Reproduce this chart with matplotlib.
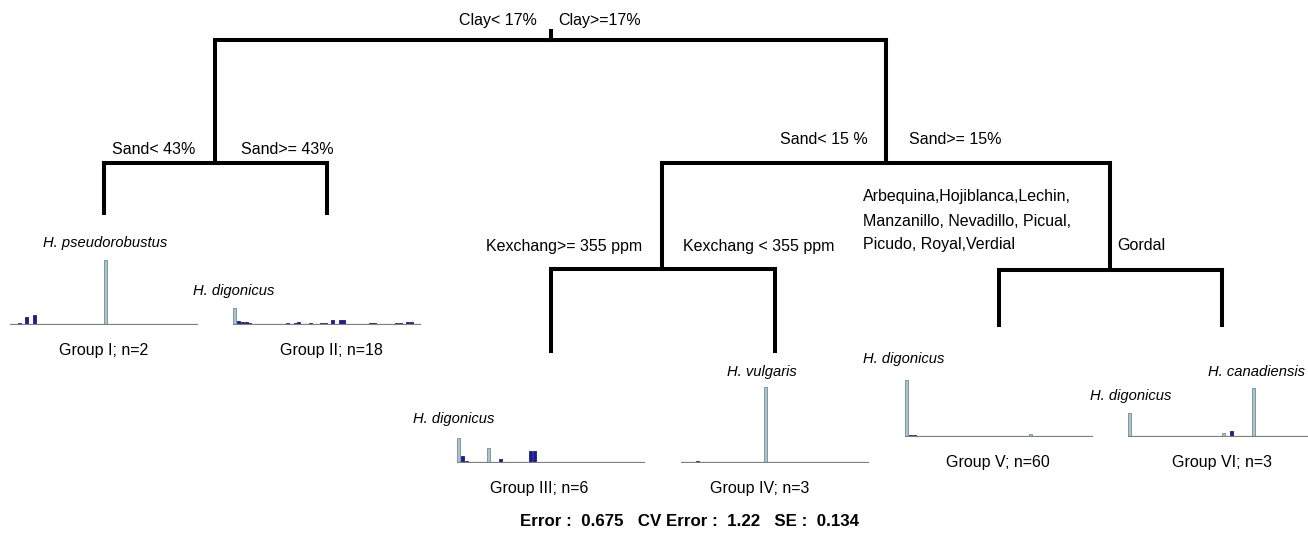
import matplotlib.pyplot as plt

W, H = 1308, 546
N_SPECIES = 50

# species index -> relative abundance
group_i = {1: 1.5, 2: 2, 4: 8, 6: 10, 25: 65}
group_ii = {0: 17, 1: 4, 2: 3, 3: 3, 4: 2, 6: 1, 7: 1, 8: 1, 11: 1, 12: 1, 13: 1,
            14: 2, 16: 2, 17: 3, 20: 2, 23: 2, 24: 2, 26: 5, 28: 5, 29: 5, 36: 2,
            37: 2, 41: 1, 42: 1, 43: 2, 44: 2, 46: 3, 47: 3, 49: 1}
group_iii = {0: 25, 1: 7, 2: 2, 5: 1, 8: 15, 11: 4, 15: 1, 19: 12, 20: 12}
group_iv = {1: 1.5, 4: 2.5, 21: 1.5, 22: 76, 26: 1.5}
group_v = {0: 57, 1: 2, 2: 2, 3: 1, 5: 1, 7: 1, 12: 1, 13: 1, 18: 1, 21: 1,
           25: 1, 26: 1, 33: 3, 36: 1}
group_vi = {0: 24, 2: 1, 3: 1, 5: 1.5, 8: 1, 17: 1, 25: 4, 27: 6, 33: 49,
            36: 1, 39: 1}
light_species = [0, 8, 22, 25, 33]

groups = [group_i, group_ii, group_iii, group_iv, group_v, group_vi]
group_labels = ["Group I; n=2", "Group II; n=18", "Group III; n=6",
                "Group IV; n=3", "Group V; n=60", "Group VI; n=3"]

plt.rcParams["font.family"] = ["Liberation Sans", "DejaVu Sans"]

fig = plt.figure(figsize=(W / 100, H / 100), dpi=100)
ax = fig.add_axes([0, 0, 1, 1])
ax.set_xlim(0, W)
ax.set_ylim(H, 0)
ax.axis("off")

# tree layout (pixels): x of node, y of its split bar (or bottom of leaf drop)
leaves = [dict(x=104, y=213), dict(x=327, y=213), dict(x=551, y=351),
          dict(x=775, y=351), dict(x=999, y=325), dict(x=1222, y=325)]
tree = dict(x=551, y=40, kids=[
    dict(x=215, y=163, kids=[leaves[0], leaves[1]]),
    dict(x=886, y=163, kids=[
        dict(x=662, y=269, kids=[leaves[2], leaves[3]]),
        dict(x=1110, y=270, kids=[leaves[4], leaves[5]]),
    ]),
])


def draw(node, y_top):
    ax.plot([node["x"], node["x"]], [y_top, node["y"]], color="black", lw=2.9,
            solid_capstyle="projecting")
    if "kids" in node:
        l, r = node["kids"]
        ax.plot([l["x"], r["x"]], [node["y"], node["y"]], color="black", lw=2.9,
                solid_capstyle="projecting")
        draw(l, node["y"])
        draw(r, node["y"])


draw(tree, 31)

fs = 11.5
ax.text(537, 20, "Clay< 17%", ha="right", va="center", fontsize=fs)
ax.text(558, 20, "Clay>=17%", ha="left", va="center", fontsize=fs)
ax.text(195, 150, "Sand< 43%", ha="right", va="center", fontsize=fs)
ax.text(241, 150, "Sand>= 43%", ha="left", va="center", fontsize=fs)
ax.text(868, 140, "Sand< 15 %", ha="right", va="center", fontsize=fs)
ax.text(909, 140, "Sand>= 15%", ha="left", va="center", fontsize=fs)
ax.text(642, 247, "Kexchang>= 355 ppm", ha="right", va="center", fontsize=fs)
ax.text(683, 247, "Kexchang < 355 ppm", ha="left", va="center", fontsize=fs)
ax.text(863, 221, "Arbequina,Hojiblanca,Lechin,\nManzanillo, Nevadillo, Picual,\nPicudo, Royal,Verdial",
        ha="left", va="center", fontsize=fs, linespacing=1.75)
ax.text(1117, 246, "Gordal", ha="left", va="center", fontsize=fs)

# species names above the dominant bars
sp = dict(fontsize=10.6, style="italic", va="center")
ax.text(105, 243, "H. pseudorobustus", ha="center", **sp)
ax.text(193, 291, "H. digonicus", ha="left", **sp)
ax.text(413, 419, "H. digonicus", ha="left", **sp)
ax.text(762, 372, "H. vulgaris", ha="center", **sp)
ax.text(863, 359, "H. digonicus", ha="left", **sp)
ax.text(1090, 396, "H. digonicus", ha="left", **sp)
ax.text(1305, 372, "H. canadiensis", ha="right", **sp)

label_x = [104, 331, 539, 760, 998, 1222]
for leaf, data, lab, lx in zip(leaves, groups, group_labels, label_x):
    base = leaf["y"] + 112
    iax = fig.add_axes([(leaf["x"] - 94) / W, (H - base) / H, 188 / W, 80 / H])
    idx = list(data.keys())
    vals = list(data.values())
    cols = ["#a9c6cf" if i in light_species else "#1c1c8c" for i in idx]
    edges = ["#6f8e98" if i in light_species else "#1c1c8c" for i in idx]
    iax.bar(idx, vals, width=0.8, color=cols, edgecolor=edges, linewidth=0.6)
    iax.axhline(0, color="#7f7f7f", lw=1.6)
    iax.set_xlim(-0.5, N_SPECIES - 0.5)
    iax.set_ylim(0, 80)
    iax.axis("off")
    ax.text(lx, base + 26, lab, ha="center", va="center", fontsize=fs)

ax.text(690, 521, "Error :  0.675   CV Error :  1.22   SE :  0.134",
        ha="center", va="center", fontsize=12.2, fontweight="bold")

fig.savefig("out.png", dpi=100)
